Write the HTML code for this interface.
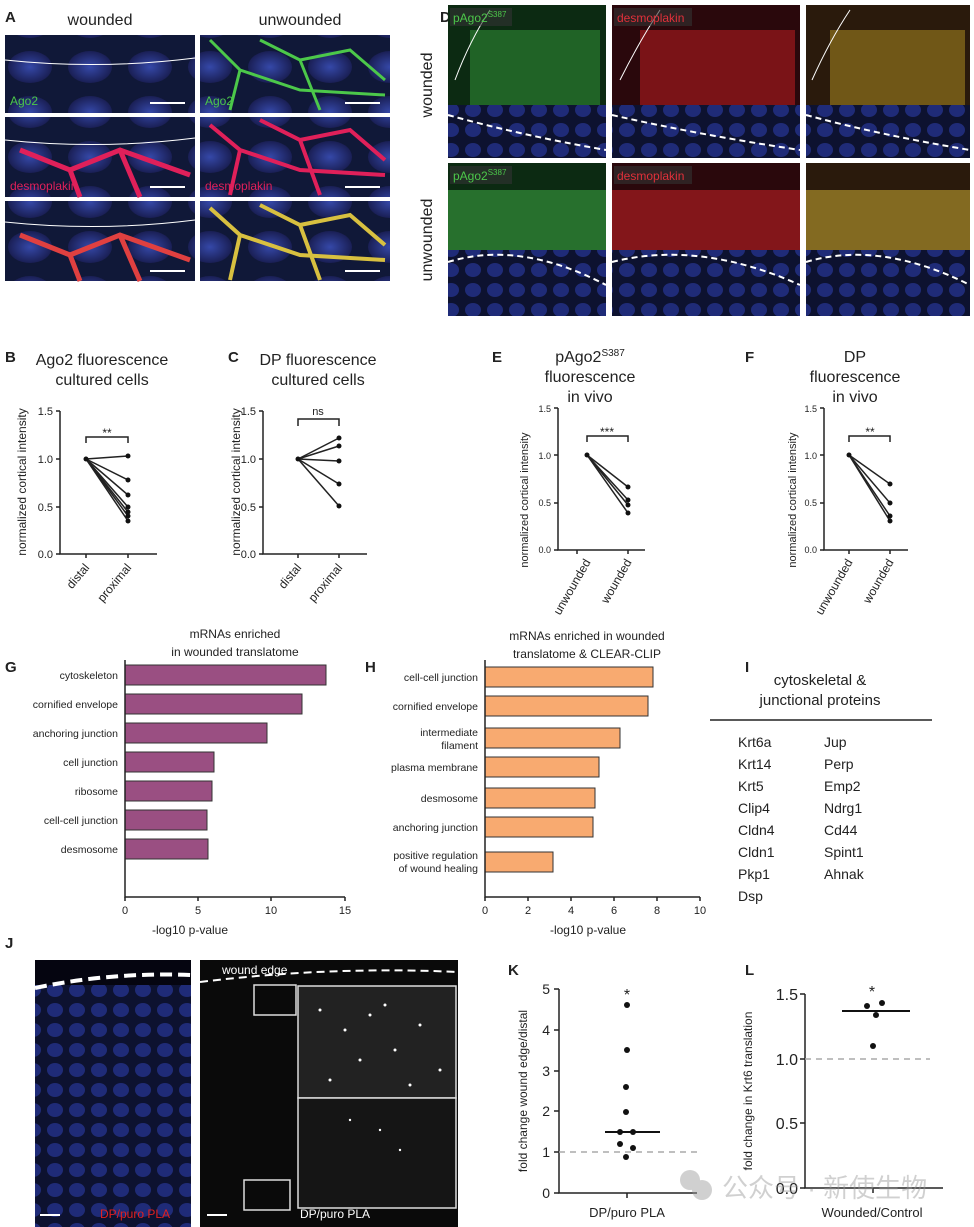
<!DOCTYPE html>
<html><head><meta charset="utf-8"><style>
html,body{margin:0;padding:0;background:#fff}
svg{display:block}
text{font-family:"Liberation Sans","Noto Sans CJK SC",sans-serif;fill:#222}
.t{font-size:16px}.s{font-size:11px}.m{font-size:12px}.L{font-size:15px;font-weight:bold}
</style></head><body>
<svg width="974" height="1227" viewBox="0 0 974 1227" xmlns="http://www.w3.org/2000/svg">
<defs>
<radialGradient id="nuc" cx="50%" cy="50%" r="50%"><stop offset="0" stop-color="#3548a8"/><stop offset="1" stop-color="#1a1f55"/></radialGradient>
<pattern id="cells" width="60" height="45" patternUnits="userSpaceOnUse"><rect width="60" height="45" fill="#101838"/><ellipse cx="30" cy="22" rx="22" ry="16" fill="url(#nuc)"/></pattern>
<pattern id="cells2" width="22" height="20" patternUnits="userSpaceOnUse"><rect width="22" height="20" fill="#0d1230"/><ellipse cx="11" cy="10" rx="8" ry="7" fill="#1f2b78"/></pattern>
</defs>
<rect width="974" height="1227" fill="#fff"/>
<!-- Panel A -->
<text x="5" y="22" class="L">A</text>
<text x="100" y="25" class="t" text-anchor="middle">wounded</text>
<text x="300" y="25" class="t" text-anchor="middle">unwounded</text>
<g>
<rect x="5" y="35" width="190" height="78" fill="url(#cells)"/>
<rect x="5" y="117" width="190" height="80" fill="url(#cells)"/>
<rect x="5" y="201" width="190" height="80" fill="url(#cells)"/>
<rect x="200" y="35" width="190" height="78" fill="url(#cells)"/>
<rect x="200" y="117" width="190" height="80" fill="url(#cells)"/>
<rect x="200" y="201" width="190" height="80" fill="url(#cells)"/>
<path d="M5 60 Q100 70 195 58" stroke="#fff" fill="none"/>
<path d="M5 140 Q100 150 195 138" stroke="#fff" fill="none"/>
<path d="M5 222 Q100 232 195 220" stroke="#fff" fill="none"/>
<path d="M210 40 L240 70 L230 110 M260 40 L300 60 L350 50 L385 80 M300 60 L320 110 M240 70 L300 90 L385 95" stroke="#4cc84a" stroke-width="3" fill="none"/>
<path d="M210 125 L240 150 L230 195 M260 120 L300 140 L350 130 L385 160 M300 140 L320 195 M240 150 L300 170 L385 175" stroke="#e0205a" stroke-width="4" fill="none"/>
<path d="M210 208 L240 235 L230 280 M260 205 L300 225 L350 215 L385 245 M300 225 L320 280 M240 235 L300 255 L385 260" stroke="#d8c040" stroke-width="4" fill="none"/>
<path d="M20 150 L70 170 L120 150 L190 175 M70 170 L80 197 M120 150 L140 197" stroke="#e0205a" stroke-width="5" fill="none"/>
<path d="M20 235 L70 255 L120 235 L190 260 M70 255 L80 281 M120 235 L140 281" stroke="#e04040" stroke-width="5" fill="none"/>
<text x="10" y="105" class="m" style="fill:#4cc84a">Ago2</text>
<text x="10" y="190" class="m" style="fill:#e0205a">desmoplakin</text>
<text x="205" y="105" class="m" style="fill:#4cc84a">Ago2</text>
<text x="205" y="190" class="m" style="fill:#e0205a">desmoplakin</text>
<g stroke="#fff" stroke-width="2"><line x1="150" y1="103" x2="185" y2="103"/><line x1="150" y1="187" x2="185" y2="187"/><line x1="150" y1="271" x2="185" y2="271"/><line x1="345" y1="103" x2="380" y2="103"/><line x1="345" y1="187" x2="380" y2="187"/><line x1="345" y1="271" x2="380" y2="271"/></g>
</g>
<!-- Panel D -->
<text x="440" y="22" class="L">D</text>
<text transform="translate(432,85) rotate(-90)" class="t" text-anchor="middle">wounded</text>
<text transform="translate(432,240) rotate(-90)" class="t" text-anchor="middle">unwounded</text>
<g>
<rect x="448" y="5" width="158" height="153" fill="#0c2a12"/>
<rect x="612" y="5" width="188" height="153" fill="#2a080c"/>
<rect x="806" y="5" width="164" height="153" fill="#2a1a0c"/>
<rect x="448" y="163" width="158" height="153" fill="#0c2a12"/>
<rect x="612" y="163" width="188" height="153" fill="#2a080c"/>
<rect x="806" y="163" width="164" height="153" fill="#2a1a0c"/>
<rect x="448" y="105" width="158" height="53" fill="url(#cells2)"/>
<rect x="612" y="105" width="188" height="53" fill="url(#cells2)"/>
<rect x="806" y="105" width="164" height="53" fill="url(#cells2)"/>
<rect x="448" y="250" width="158" height="66" fill="url(#cells2)"/>
<rect x="612" y="250" width="188" height="66" fill="url(#cells2)"/>
<rect x="806" y="250" width="164" height="66" fill="url(#cells2)"/>
<rect x="470" y="30" width="130" height="75" fill="#2f8a34" opacity="0.6"/>
<rect x="640" y="30" width="155" height="75" fill="#b01a20" opacity="0.6"/>
<rect x="830" y="30" width="135" height="75" fill="#a08020" opacity="0.6"/>
<rect x="448" y="190" width="158" height="60" fill="#3aa040" opacity="0.6"/>
<rect x="612" y="190" width="188" height="60" fill="#c02025" opacity="0.6"/>
<rect x="806" y="190" width="164" height="60" fill="#c0a030" opacity="0.6"/>
<g stroke="#fff" stroke-width="2" stroke-dasharray="6 4" fill="none">
<path d="M448 115 Q520 135 606 150"/><path d="M612 115 Q700 135 800 150"/><path d="M806 115 Q880 135 970 150"/>
<path d="M448 262 Q520 240 606 285"/><path d="M612 262 Q700 240 800 285"/><path d="M806 262 Q880 240 970 285"/>
</g>
<path d="M455 80 Q470 40 490 10" stroke="#fff" fill="none"/>
<path d="M620 80 Q640 40 660 10" stroke="#fff" fill="none"/>
<path d="M812 80 Q830 40 850 10" stroke="#fff" fill="none"/>
<rect x="450" y="8" width="62" height="18" fill="#333" opacity="0.6"/>
<text x="453" y="22" class="m" style="fill:#4cc84a">pAgo2<tspan font-size="8" dy="-5">S387</tspan></text>
<rect x="614" y="8" width="78" height="18" fill="#333" opacity="0.6"/>
<text x="617" y="22" class="m" style="fill:#e0303a">desmoplakin</text>
<rect x="450" y="166" width="62" height="18" fill="#333" opacity="0.6"/>
<text x="453" y="180" class="m" style="fill:#4cc84a">pAgo2<tspan font-size="8" dy="-5">S387</tspan></text>
<rect x="614" y="166" width="78" height="18" fill="#333" opacity="0.6"/>
<text x="617" y="180" class="m" style="fill:#e0303a">desmoplakin</text>
</g>
<!-- B -->
<g>
<text x="5" y="362" class="L">B</text>
<text x="102" y="365" class="t" text-anchor="middle">Ago2 fluorescence</text>
<text x="102" y="385" class="t" text-anchor="middle">cultured cells</text>
<text transform="translate(26,482) rotate(-90)" class="m" text-anchor="middle">normalized cortical intensity</text>
<g stroke="#222" stroke-width="1.5" fill="none"><path d="M60 411 V554 H157"/><path d="M56 411H60M56 459H60M56 507H60M56 554H60M86 554V558M128 554V558"/><path d="M86 443V437H128V443"/></g>
<g class="s" text-anchor="end"><text x="53" y="415">1.5</text><text x="53" y="463">1.0</text><text x="53" y="511">0.5</text><text x="53" y="558">0.0</text></g>
<text x="107" y="437" class="m" text-anchor="middle">**</text>
<g stroke="#222" stroke-width="1.5"><line x1="86" y1="459" x2="128" y2="456"/><line x1="86" y1="459" x2="128" y2="480"/><line x1="86" y1="459" x2="128" y2="495"/><line x1="86" y1="459" x2="128" y2="507"/><line x1="86" y1="459" x2="128" y2="512"/><line x1="86" y1="459" x2="128" y2="516"/><line x1="86" y1="459" x2="128" y2="521"/></g>
<g fill="#111"><circle cx="86" cy="459" r="2.5"/><circle cx="128" cy="456" r="2.5"/><circle cx="128" cy="480" r="2.5"/><circle cx="128" cy="495" r="2.5"/><circle cx="128" cy="507" r="2.5"/><circle cx="128" cy="512" r="2.5"/><circle cx="128" cy="516" r="2.5"/><circle cx="128" cy="521" r="2.5"/></g>
<text transform="translate(90,568) rotate(-50)" class="m" text-anchor="end">distal</text>
<text transform="translate(132,568) rotate(-50)" class="m" text-anchor="end">proximal</text>
</g>
<!-- C -->
<g>
<text x="228" y="362" class="L">C</text>
<text x="318" y="365" class="t" text-anchor="middle">DP fluorescence</text>
<text x="318" y="385" class="t" text-anchor="middle">cultured cells</text>
<text transform="translate(240,482) rotate(-90)" class="m" text-anchor="middle">normalized cortical intensity</text>
<g stroke="#222" stroke-width="1.5" fill="none"><path d="M263 411 V554 H367"/><path d="M259 411H263M259 459H263M259 507H263M259 554H263M298 554V558M339 554V558"/><path d="M298 426V419H339V426"/></g>
<g class="s" text-anchor="end"><text x="256" y="415">1.5</text><text x="256" y="463">1.0</text><text x="256" y="511">0.5</text><text x="256" y="558">0.0</text></g>
<text x="318" y="415" class="s" text-anchor="middle">ns</text>
<g stroke="#222" stroke-width="1.5"><line x1="298" y1="459" x2="339" y2="438"/><line x1="298" y1="459" x2="339" y2="446"/><line x1="298" y1="459" x2="339" y2="461"/><line x1="298" y1="459" x2="339" y2="484"/><line x1="298" y1="459" x2="339" y2="506"/></g>
<g fill="#111"><circle cx="298" cy="459" r="2.5"/><circle cx="339" cy="438" r="2.5"/><circle cx="339" cy="446" r="2.5"/><circle cx="339" cy="461" r="2.5"/><circle cx="339" cy="484" r="2.5"/><circle cx="339" cy="506" r="2.5"/></g>
<text transform="translate(302,568) rotate(-50)" class="m" text-anchor="end">distal</text>
<text transform="translate(343,568) rotate(-50)" class="m" text-anchor="end">proximal</text>
</g>
<!-- E -->
<g>
<text x="492" y="362" class="L">E</text>
<text x="590" y="362" class="t" text-anchor="middle">pAgo2<tspan font-size="10" dy="-6">S387</tspan></text>
<text x="590" y="382" class="t" text-anchor="middle">fluorescence</text>
<text x="590" y="402" class="t" text-anchor="middle">in vivo</text>
<text transform="translate(528,500) rotate(-90)" class="s" text-anchor="middle">normalized cortical intensity</text>
<g stroke="#222" stroke-width="1.5" fill="none"><path d="M558 408 V550 H645"/><path d="M554 408H558M554 455H558M554 503H558M554 550H558M577 550V554M628 550V554"/><path d="M587 442V436H628V442"/></g>
<g class="s" text-anchor="end" style="font-size:9px"><text x="551" y="412">1.5</text><text x="551" y="459">1.0</text><text x="551" y="506">0.5</text><text x="551" y="553">0.0</text></g>
<text x="607" y="436" class="m" text-anchor="middle">***</text>
<g stroke="#222" stroke-width="1.5"><line x1="587" y1="455" x2="628" y2="487"/><line x1="587" y1="455" x2="628" y2="500"/><line x1="587" y1="455" x2="628" y2="505"/><line x1="587" y1="455" x2="628" y2="513"/></g>
<g fill="#111"><circle cx="587" cy="455" r="2.5"/><circle cx="628" cy="487" r="2.5"/><circle cx="628" cy="500" r="2.5"/><circle cx="628" cy="505" r="2.5"/><circle cx="628" cy="513" r="2.5"/></g>
<text transform="translate(591,562) rotate(-60)" class="m" text-anchor="end">unwounded</text>
<text transform="translate(632,562) rotate(-60)" class="m" text-anchor="end">wounded</text>
</g>
<!-- F -->
<g>
<text x="745" y="362" class="L">F</text>
<text x="855" y="362" class="t" text-anchor="middle">DP</text>
<text x="855" y="382" class="t" text-anchor="middle">fluorescence</text>
<text x="855" y="402" class="t" text-anchor="middle">in vivo</text>
<text transform="translate(796,500) rotate(-90)" class="s" text-anchor="middle">normalized cortical intensity</text>
<g stroke="#222" stroke-width="1.5" fill="none"><path d="M824 408 V550 H908"/><path d="M820 408H824M820 455H824M820 503H824M820 550H824M849 550V554M890 550V554"/><path d="M849 442V436H890V442"/></g>
<g class="s" text-anchor="end" style="font-size:9px"><text x="817" y="412">1.5</text><text x="817" y="459">1.0</text><text x="817" y="506">0.5</text><text x="817" y="553">0.0</text></g>
<text x="870" y="436" class="m" text-anchor="middle">**</text>
<g stroke="#222" stroke-width="1.5"><line x1="849" y1="455" x2="890" y2="484"/><line x1="849" y1="455" x2="890" y2="503"/><line x1="849" y1="455" x2="890" y2="516"/><line x1="849" y1="455" x2="890" y2="521"/></g>
<g fill="#111"><circle cx="849" cy="455" r="2.5"/><circle cx="890" cy="484" r="2.5"/><circle cx="890" cy="503" r="2.5"/><circle cx="890" cy="516" r="2.5"/><circle cx="890" cy="521" r="2.5"/></g>
<text transform="translate(853,562) rotate(-60)" class="m" text-anchor="end">unwounded</text>
<text transform="translate(894,562) rotate(-60)" class="m" text-anchor="end">wounded</text>
</g>
<!-- G -->
<g>
<text x="5" y="672" class="L">G</text>
<text x="235" y="638" class="m" text-anchor="middle">mRNAs enriched</text>
<text x="235" y="656" class="m" text-anchor="middle">in wounded translatome</text>
<g fill="#9a4f82" stroke="#333" stroke-width="1">
<rect x="125" y="665" width="201" height="20"/><rect x="125" y="694" width="177" height="20"/><rect x="125" y="723" width="142" height="20"/><rect x="125" y="752" width="89" height="20"/><rect x="125" y="781" width="87" height="20"/><rect x="125" y="810" width="82" height="20"/><rect x="125" y="839" width="83" height="20"/>
</g>
<g class="s" text-anchor="end" style="font-size:10.5px"><text x="118" y="679">cytoskeleton</text><text x="118" y="708">cornified envelope</text><text x="118" y="737">anchoring junction</text><text x="118" y="766">cell junction</text><text x="118" y="795">ribosome</text><text x="118" y="824">cell-cell junction</text><text x="118" y="853">desmosome</text></g>
<g stroke="#222" stroke-width="1.5" fill="none"><path d="M125 660V897H345"/><path d="M125 897V901M198 897V901M271 897V901M345 897V901"/></g>
<g class="s" text-anchor="middle"><text x="125" y="914">0</text><text x="198" y="914">5</text><text x="271" y="914">10</text><text x="345" y="914">15</text></g>
<text x="190" y="934" class="m" text-anchor="middle">-log10 p-value</text>
</g>
<!-- H -->
<g>
<text x="365" y="672" class="L">H</text>
<text x="587" y="640" class="m" text-anchor="middle">mRNAs enriched in wounded</text>
<text x="587" y="658" class="m" text-anchor="middle">translatome &amp; CLEAR-CLIP</text>
<g fill="#f8aa70" stroke="#333" stroke-width="1">
<rect x="485" y="667" width="168" height="20"/><rect x="485" y="696" width="163" height="20"/><rect x="485" y="728" width="135" height="20"/><rect x="485" y="757" width="114" height="20"/><rect x="485" y="788" width="110" height="20"/><rect x="485" y="817" width="108" height="20"/><rect x="485" y="852" width="68" height="20"/>
</g>
<g class="s" text-anchor="end" style="font-size:10.5px"><text x="478" y="681">cell-cell junction</text><text x="478" y="710">cornified envelope</text><text x="478" y="736">intermediate</text><text x="478" y="749">filament</text><text x="478" y="771">plasma membrane</text><text x="478" y="802">desmosome</text><text x="478" y="831">anchoring junction</text><text x="478" y="859">positive regulation</text><text x="478" y="872">of wound healing</text></g>
<g stroke="#222" stroke-width="1.5" fill="none"><path d="M485 660V897H700"/><path d="M485 897V901M528 897V901M571 897V901M614 897V901M657 897V901M700 897V901"/></g>
<g class="s" text-anchor="middle"><text x="485" y="914">0</text><text x="528" y="914">2</text><text x="571" y="914">4</text><text x="614" y="914">6</text><text x="657" y="914">8</text><text x="700" y="914">10</text></g>
<text x="588" y="934" class="m" text-anchor="middle">-log10 p-value</text>
</g>
<!-- I -->
<g>
<text x="745" y="672" class="L">I</text>
<text x="820" y="685" class="t" text-anchor="middle" style="font-size:15px">cytoskeletal &amp;</text>
<text x="820" y="705" class="t" text-anchor="middle" style="font-size:15px">junctional proteins</text>
<line x1="710" y1="720" x2="932" y2="720" stroke="#222" stroke-width="1.5"/>
<g style="font-size:14px"><text x="738" y="747">Krt6a</text><text x="738" y="769">Krt14</text><text x="738" y="791">Krt5</text><text x="738" y="813">Clip4</text><text x="738" y="835">Cldn4</text><text x="738" y="857">Cldn1</text><text x="738" y="879">Pkp1</text><text x="738" y="901">Dsp</text>
<text x="824" y="747">Jup</text><text x="824" y="769">Perp</text><text x="824" y="791">Emp2</text><text x="824" y="813">Ndrg1</text><text x="824" y="835">Cd44</text><text x="824" y="857">Spint1</text><text x="824" y="879">Ahnak</text></g>
</g>
<!-- J -->
<g>
<text x="5" y="948" class="L">J</text>
<rect x="35" y="960" width="156" height="267" fill="url(#cells2)"/>
<rect x="35" y="960" width="156" height="25" fill="#050510"/>
<path d="M35 988 Q110 972 191 975" stroke="#fff" stroke-width="4" stroke-dasharray="12 6" fill="none"/>
<line x1="40" y1="1215" x2="60" y2="1215" stroke="#fff" stroke-width="2"/>
<text x="100" y="1218" class="m" style="fill:#e02020">DP/puro PLA</text>
<rect x="200" y="960" width="258" height="267" fill="#0a0a0a"/>
<path d="M200 982 Q330 966 458 972" stroke="#fff" stroke-width="2" stroke-dasharray="8 5" fill="none"/>
<text x="222" y="974" class="m" style="fill:#fff">wound edge</text>
<rect x="254" y="985" width="42" height="30" fill="none" stroke="#ddd" stroke-width="1.5"/>
<rect x="244" y="1180" width="46" height="30" fill="none" stroke="#ddd" stroke-width="1.5"/>
<rect x="298" y="986" width="158" height="112" fill="#222" stroke="#ddd" stroke-width="1.5"/>
<rect x="298" y="1098" width="158" height="110" fill="#151515" stroke="#ddd" stroke-width="1.5"/>
<g fill="#fff"><circle cx="320" cy="1010" r="1.5"/><circle cx="345" cy="1030" r="1.5"/><circle cx="370" cy="1015" r="1.5"/><circle cx="395" cy="1050" r="1.5"/><circle cx="420" cy="1025" r="1.5"/><circle cx="440" cy="1070" r="1.5"/><circle cx="360" cy="1060" r="1.5"/><circle cx="330" cy="1080" r="1.5"/><circle cx="410" cy="1085" r="1.5"/><circle cx="385" cy="1005" r="1.5"/><circle cx="350" cy="1120" r="1.2"/><circle cx="400" cy="1150" r="1.2"/><circle cx="380" cy="1130" r="1.2"/></g>
<line x1="207" y1="1215" x2="227" y2="1215" stroke="#fff" stroke-width="2"/>
<text x="300" y="1218" class="m" style="fill:#fff">DP/puro PLA</text>
</g>
<!-- K -->
<g>
<text x="508" y="975" class="L">K</text>
<text transform="translate(527,1091) rotate(-90)" class="m" text-anchor="middle">fold change wound edge/distal</text>
<g stroke="#222" stroke-width="1.5" fill="none"><path d="M559 989V1193H697"/><path d="M554 989H559M554 1030H559M554 1071H559M554 1111H559M554 1152H559M554 1193H559M627 1193V1198"/></g>
<g class="m" text-anchor="end" style="font-size:14px"><text x="550" y="994">5</text><text x="550" y="1035">4</text><text x="550" y="1076">3</text><text x="550" y="1116">2</text><text x="550" y="1157">1</text><text x="550" y="1198">0</text></g>
<line x1="559" y1="1152" x2="697" y2="1152" stroke="#aaa" stroke-width="1.5" stroke-dasharray="6 5"/>
<line x1="605" y1="1132" x2="660" y2="1132" stroke="#111" stroke-width="2"/>
<text x="627" y="1000" class="t" text-anchor="middle">*</text>
<g fill="#111"><circle cx="627" cy="1005" r="3"/><circle cx="627" cy="1050" r="3"/><circle cx="626" cy="1087" r="3"/><circle cx="626" cy="1112" r="3"/><circle cx="620" cy="1132" r="3"/><circle cx="633" cy="1132" r="3"/><circle cx="620" cy="1144" r="3"/><circle cx="633" cy="1148" r="3"/><circle cx="626" cy="1157" r="3"/></g>
<text x="627" y="1217" class="m" text-anchor="middle" style="font-size:13px">DP/puro PLA</text>
</g>
<!-- L -->
<g>
<text x="745" y="975" class="L">L</text>
<text transform="translate(752,1091) rotate(-90)" class="m" text-anchor="middle">fold change in Krt6 translation</text>
<g stroke="#222" stroke-width="1.5" fill="none"><path d="M805 994V1188H943"/><path d="M800 994H805M800 1059H805M800 1123H805M800 1188H805M873 1188V1193"/></g>
<g class="t" text-anchor="end" style="font-size:16px"><text x="798" y="1000">1.5</text><text x="798" y="1065">1.0</text><text x="798" y="1129">0.5</text><text x="798" y="1194">0.0</text></g>
<line x1="805" y1="1059" x2="930" y2="1059" stroke="#aaa" stroke-width="1.5" stroke-dasharray="6 5"/>
<line x1="842" y1="1011" x2="910" y2="1011" stroke="#111" stroke-width="2"/>
<text x="872" y="997" class="t" text-anchor="middle">*</text>
<g fill="#111"><circle cx="867" cy="1006" r="3"/><circle cx="882" cy="1003" r="3"/><circle cx="876" cy="1015" r="3"/><circle cx="873" cy="1046" r="3"/></g>
<text x="872" y="1217" class="m" text-anchor="middle" style="font-size:13px">Wounded/Control</text>
</g>
<!-- watermark -->
<g opacity="0.45">
<circle cx="690" cy="1180" r="10" fill="#999"/><circle cx="702" cy="1190" r="10" fill="#999"/>
<text x="722" y="1197" style="font-size:26px;fill:#999">公众号 · 新使生物</text>
</g>
</svg>
</body></html>
